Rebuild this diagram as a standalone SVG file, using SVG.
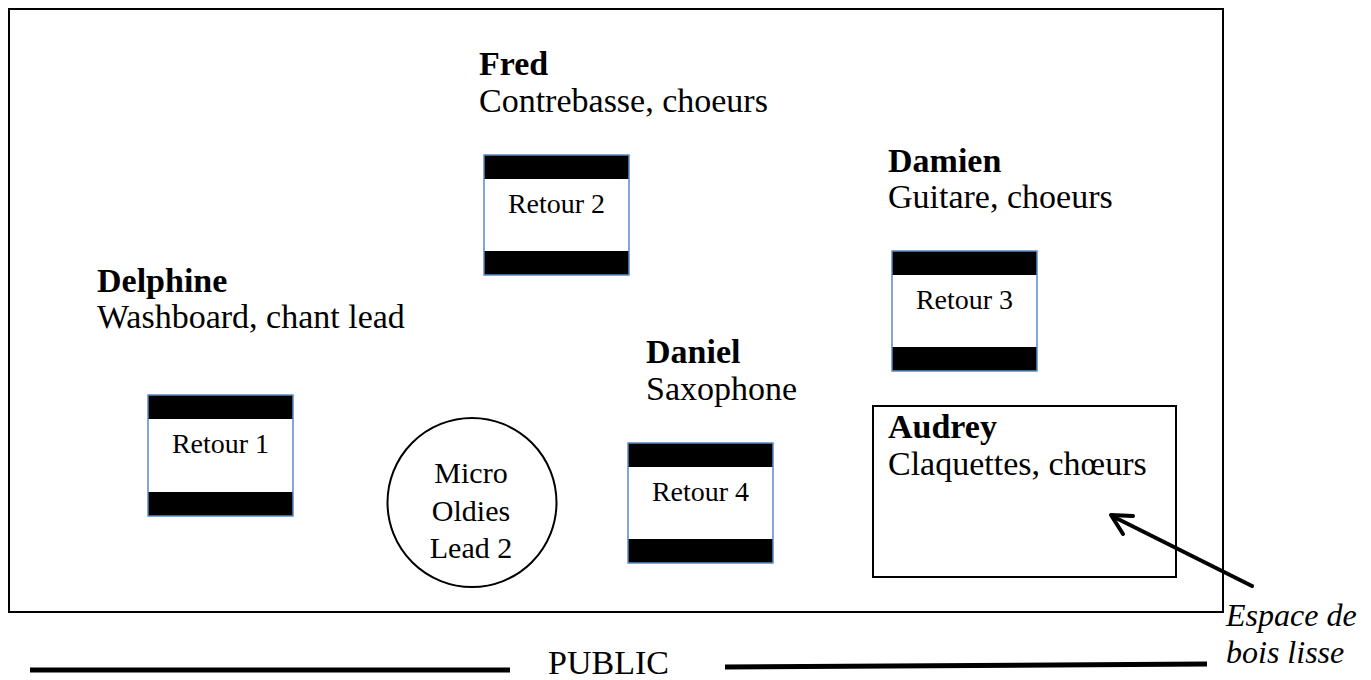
<svg xmlns="http://www.w3.org/2000/svg" width="1371" height="680" viewBox="0 0 1371 680">
<style>
text{font-family:"Liberation Serif","Times New Roman",serif;fill:#000}
.name{font-size:34px;font-weight:bold}
.role{font-size:34px}
.ret{font-size:28px;text-anchor:middle}
.mic{font-size:30px;text-anchor:middle}
.it{font-size:32px;font-style:italic}
.bar{fill:#000}
.frame{fill:none;stroke:#5b8bc6;stroke-width:1.5}
.conn{fill:none;stroke:#000;stroke-width:4;stroke-linecap:round;stroke-linejoin:round}
</style>
<rect width="1371" height="680" fill="#fff"/>
<rect id="stage" x="9" y="9" width="1214" height="603" fill="none" stroke="#000" stroke-width="2"/>

<g id="fred"><text class="name" x="479" y="75">Fred</text><text class="role" x="479" y="112">Contrebasse, choeurs</text></g>
<g id="delphine"><text class="name" x="97" y="292">Delphine</text><text class="role" x="97" y="328">Washboard, chant lead</text></g>
<g id="damien"><text class="name" x="888" y="172">Damien</text><text class="role" x="888" y="208">Guitare, choeurs</text></g>
<g id="daniel"><text class="name" x="646" y="363">Daniel</text><text class="role" x="646" y="400">Saxophone</text></g>

<g id="retour1"><rect x="148" y="395" width="145" height="121" fill="#fff"/><rect class="bar" x="148" y="395" width="145" height="24"/><rect class="bar" x="148" y="492" width="145" height="24"/><rect class="frame" x="148" y="395" width="145" height="121"/><text class="ret" x="220.5" y="453">Retour 1</text></g>
<g id="retour2"><rect x="484" y="155" width="145" height="120" fill="#fff"/><rect class="bar" x="484" y="155" width="145" height="24"/><rect class="bar" x="484" y="251" width="145" height="24"/><rect class="frame" x="484" y="155" width="145" height="120"/><text class="ret" x="556.5" y="213">Retour 2</text></g>
<g id="retour3"><rect x="892" y="251" width="145" height="120" fill="#fff"/><rect class="bar" x="892" y="251" width="145" height="24"/><rect class="bar" x="892" y="347" width="145" height="24"/><rect class="frame" x="892" y="251" width="145" height="120"/><text class="ret" x="964.5" y="309">Retour 3</text></g>
<g id="retour4"><rect x="628" y="443" width="145" height="120" fill="#fff"/><rect class="bar" x="628" y="443" width="145" height="24"/><rect class="bar" x="628" y="539" width="145" height="24"/><rect class="frame" x="628" y="443" width="145" height="120"/><text class="ret" x="700.5" y="501">Retour 4</text></g>

<g id="micro"><circle cx="472" cy="502.5" r="84.5" fill="#fff" stroke="#000" stroke-width="2"/><text class="mic" x="471" y="483">Micro</text><text class="mic" x="471" y="521">Oldies</text><text class="mic" x="471" y="558">Lead 2</text></g>

<g id="audrey"><rect x="873" y="406" width="303" height="171" fill="#fff" stroke="#000" stroke-width="2"/><text class="name" x="888" y="438">Audrey</text><text class="role" x="888" y="475">Claquettes, chœurs</text></g>

<g id="connectors">
<line class="conn" x1="1252" y1="586" x2="1112" y2="516"/>
<polyline class="conn" points="1133,516 1111,515 1123,534"/>
</g>

<g id="label-espace"><text class="it" x="1226" y="626">Espace de</text><text class="it" x="1226" y="663">bois lisse</text></g>

<g id="public">
<line x1="30" y1="670" x2="510" y2="670" stroke="#000" stroke-width="5"/>
<text x="548" y="674" font-size="34">PUBLIC</text>
<line x1="725" y1="667" x2="1207" y2="664" stroke="#000" stroke-width="5"/>
</g>
</svg>
